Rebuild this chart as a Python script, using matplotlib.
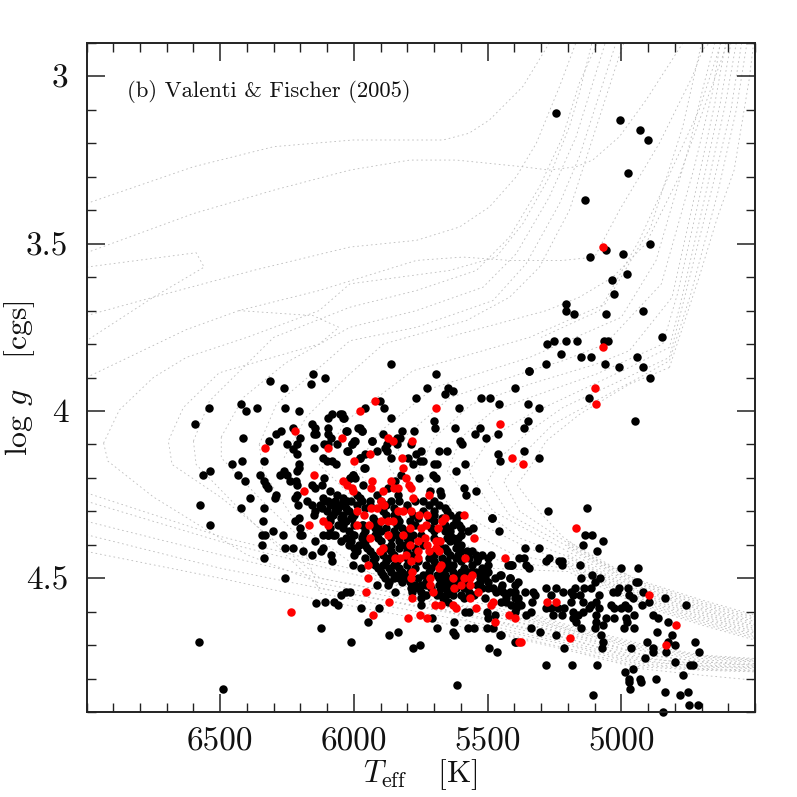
import matplotlib
matplotlib.use("Agg")
import matplotlib.pyplot as plt
from matplotlib.ticker import MultipleLocator

plt.rcParams['font.family'] = ['cmr10', 'DejaVu Serif']
plt.rcParams['mathtext.fontset'] = 'cm'
plt.rcParams['axes.unicode_minus'] = False
plt.rcParams['axes.formatter.use_mathtext'] = True

panel_title = "(b) Valenti & Fischer (2005)"
x_ticks = [6500, 6000, 5500, 5000]
y_ticks = [3, 3.5, 4, 4.5]
y_labels = ["3", "3.5", "4", "4.5"]

red_stars = [
 (6332,4.11),(6220,4.06),(6151,4.19),(6187,4.24),(6167,4.34),(6114,4.33),(6098,4.34),(6098,4.11),(6043,4.08),
 (5999,4.15),(5939,4.13),(5977,4.00),(5921,3.97),(6039,4.21),(6025,4.22),(6008,4.23),(6002,4.24),(5934,4.21),(5937,4.23),
 (5990,4.30),(5962,4.31),(5937,4.29),(5915,4.29),(5990,4.34),(5942,4.34),(5940,4.38),(5694,3.99),(5872,4.08),(5855,4.09),
 (5782,4.09),(5821,4.14),(5817,4.17),(5452,4.04),(5409,4.14),(5369,4.16),(5804,4.20),(5862,4.21),(5849,4.23),(5834,4.23),
 (5793,4.22),(5787,4.23),(5890,4.24),(5778,4.26),(5719,4.25),(5897,4.27),(5887,4.28),(5834,4.30),(5816,4.30),(5785,4.30),
 (5756,4.31),(5725,4.31),(5658,4.32),(5590,4.31),(5898,4.33),(5872,4.33),(5853,4.33),(5791,4.35),(5729,4.34),(5750,4.35),
 (5685,4.35),(5669,4.33),(5816,4.37),(5874,4.37),(5552,4.38),(5789,4.40),(5762,4.39),(5735,4.38),(5725,4.40),(5692,4.39),
 (5679,4.39),(5692,4.41),(5682,4.42),(5719,4.42),(5760,4.42),(5891,4.41),(5903,4.42),(5804,4.43),(5845,4.44),(5826,4.44),
 (5759,4.44),(5787,4.45),(5586,4.44),(5434,4.44),(5947,4.46),(5673,4.46),(5682,4.47),(5781,4.48),(5949,4.50),(5787,4.50),
 (5714,4.50),(5629,4.50),(5588,4.50),(5557,4.49),(5567,4.50),(5716,4.52),(5601,4.52),(5565,4.52),(5627,4.53),(5953,4.54),
 (5704,4.54),(5535,4.54),(5781,4.56),(5566,4.56),(5869,4.57),(5697,4.58),(5673,4.58),(5629,4.58),(5617,4.59),(5542,4.59),
 (5480,4.57),(5486,4.58),(5930,4.61),(5797,4.62),(5751,4.61),(5726,4.62),(5420,4.61),(5399,4.62),(5471,4.63),(5381,4.69),
 (5171,4.35),(5277,4.57),(5246,4.57),(5374,4.69),(5191,4.68),(4898,4.55),(4797,4.64),(4834,4.70),(6235,4.60),
 (5067,3.51),(5067,3.81),(5098,3.93),(5095,3.98),
]

black_stars = [
 (6593,4.04),(6541,3.99),(6312,3.91),(6261,3.93),(6154,3.89),(6107,3.90),(6160,3.92),(6423,3.98),(6404,4.00),(6362,3.99),
 (6257,3.99),(6204,4.00),(6415,4.08),(6319,4.09),(6291,4.07),(6273,4.06),(6226,4.05),(6457,4.16),(6418,4.15),(6338,4.15),
 (6540,4.18),(6566,4.19),(6434,4.19),(6409,4.21),(6350,4.19),(6338,4.21),(6328,4.22),(6321,4.23),(6387,4.26),(6292,4.25),
 (6296,4.26),(6576,4.28),(6424,4.29),(6338,4.29),(6537,4.34),(6340,4.33),(6333,4.37),(6303,4.36),(6266,4.37),
 (6201,4.08),(6251,4.10),(6214,4.10),(6226,4.115),(6214,4.13),(6207,4.16),(6204,4.17),(6214,4.18),(6151,4.11),
 (6158,4.04),(6145,4.05),(6151,4.07),(6140,4.07),(6095,4.05),(6095,4.07),(6085,4.08),(6064,4.10),(6095,4.10),(6110,4.10),
 (6083,4.01),(6095,4.02),(6052,4.01),(6039,4.02),(6027,4.06),(5977,4.05),(5971,4.06),(5996,4.09),(6008,4.10),(6023,4.12),
 (5934,4.09),(5977,4.14),(5959,4.13),(5961,4.17),(6114,4.14),(6102,4.15),(6083,4.15),(6068,4.16),(6110,4.20),(6002,4.19),
 (6015,4.20),(6158,4.22),(6145,4.23),(6120,4.22),(6214,4.25),(6222,4.26),(6210,4.28),(6261,4.18),(6251,4.19),(6276,4.19),
 (6238,4.21),(6217,4.21),(6214,4.22),(6176,4.27),(6158,4.28),(6127,4.28),(6145,4.30),(6151,4.31),(6114,4.26),(6089,4.24),
 (6064,4.25),(6095,4.27),(6064,4.28),(6039,4.26),(6027,4.27),(5990,4.25),(5965,4.22),(5977,4.26),(5940,4.27),(5915,4.25),
 (6064,4.30),(6089,4.32),(6039,4.34),(6008,4.32),(5965,4.34),(6205,4.32),(6220,4.33),(6201,4.35),(6195,4.37),(6114,4.37),
 (6077,4.37),(6002,4.37),(6095,4.37),(5965,4.37),(5915,4.36),
 (6343,4.37),(6343,4.40),(6336,4.44),(6257,4.41),(6228,4.41),(6190,4.42),(6157,4.43),(6201,4.37),(6146,4.39),(6257,4.50),
 (6142,4.575),(6578,4.69),(6490,4.83),(5616,4.82),
 (5862,3.86),(5694,3.89),(5344,3.88),(5399,3.93),(5726,3.93),(5648,3.93),(5631,3.94),(5658,3.95),(5767,3.96),(5525,3.96),
 (5491,3.96),(5456,3.98),(5348,3.98),(5309,3.99),(5607,3.99),(5903,3.97),(5959,3.99),(5888,3.99),(5862,4.02),(6046,4.01),
 (6037,4.02),(5699,4.03),(5696,4.05),(5623,4.05),(5530,4.05),(5547,4.07),(5507,4.08),(5460,4.07),(5349,4.03),(5364,4.05),
 (5821,4.06),(5775,4.06),(5604,4.09),(5597,4.10),(5681,4.12),(5651,4.12),(5750,4.12),(5768,4.13),(5753,4.15),(5741,4.15),
 (5780,4.16),(5799,4.14),(5862,4.14),(5699,4.16),(5691,4.16),(5584,4.16),(5620,4.18),(5460,4.13),(5454,4.15),(5363,4.12),
 (5309,4.14),(5706,4.19),(5694,4.20),(5755,4.20),(5590,4.23),(5580,4.25),(5544,4.24),(5679,4.24),(5676,4.25),(5714,4.24),
 (5485,4.32),(6028,4.06),(5984,4.05),(5971,4.06),(5999,4.09),(6006,4.10),(6027,4.12),(5933,4.09),(5890,4.07),(5840,4.08),
 (5828,4.08),(5838,4.10),(5878,4.10),(5884,4.11),(5878,4.12),(5915,4.12),(5785,4.10),(5977,4.14),(5960,4.17),(6002,4.19),
 (5996,4.20),(6015,4.20),(5822,4.19),(5847,4.21),(5834,4.25),(5872,4.23),
 (5485,4.32),(5458,4.36),(5607,4.31),(5619,4.32),(5607,4.34),(5555,4.35),(5573,4.36),(5611,4.38),(5619,4.39),(5489,4.43),
 (5577,4.42),(5542,4.43),(5536,4.44),(5424,4.46),(5412,4.46),(5418,4.50),(5455,4.49),(5474,4.50),(6003,4.46),(5972,4.47),
 (6086,4.43),(6083,4.45),(6117,4.41),(6123,4.42),(6049,4.39),(6096,4.37),(6071,4.37),(6108,4.57),(6075,4.57),(6059,4.58),
 (6050,4.55),(6030,4.54),(6013,4.54),(5975,4.59),(5907,4.59),(5949,4.63),(5846,4.54),(5913,4.52),(5874,4.52),(5884,4.50),
 (5851,4.50),(5821,4.51),(5750,4.52),(5787,4.53),(5781,4.54),(5748,4.56),(5750,4.58),(5654,4.55),(5667,4.56),(5648,4.57),
 (5590,4.56),(5586,4.60),(5571,4.60),(5708,4.62),(5627,4.63),(5690,4.65),(5573,4.65),(5552,4.65),(5501,4.65),(5480,4.65),
 (5453,4.67),(5629,4.66),(5623,4.67),(5867,4.67),(5836,4.66),(6009,4.69),(5779,4.71),(5754,4.70),(5493,4.71),(5465,4.72),
 (5396,4.69),(6123,4.65),(5499,4.53),(5480,4.53),(5468,4.54),(5449,4.53),(5430,4.56),(5399,4.54),(5387,4.56),(5412,4.58),
 (5393,4.59),(5511,4.56),(5501,4.60),(5471,4.61),(5499,4.62),(5517,4.48),(5511,4.50),(5530,4.51),(5542,4.48),(5573,4.48),
 (5598,4.48),
 (5134,4.37),(5109,4.37),(5068,4.39),(5143,4.40),(5090,4.42),(5156,4.46),(5362,4.41),(5308,4.41),(5384,4.44),(5364,4.44),
 (5358,4.46),(5347,4.47),(5418,4.46),(5408,4.46),(5271,4.44),(5281,4.45),(5234,4.45),(5221,4.45),(5221,4.46),(5001,4.47),
 (4936,4.47),(4945,4.51),(4936,4.51),(5149,4.50),(5110,4.49),(5079,4.50),(5100,4.51),(5418,4.50),(5387,4.51),(5399,4.52),
 (5445,4.52),(5451,4.49),(5283,4.53),(5246,4.53),(5219,4.54),(5188,4.54),(5175,4.53),(5138,4.53),(5113,4.53),(5082,4.55),
 (5032,4.54),(5017,4.54),(5007,4.53),(4976,4.53),(4972,4.55),(4957,4.56),(4918,4.54),(4895,4.57),(4923,4.58),(4837,4.56),
 (4758,4.58),(5359,4.54),(5331,4.54),(5324,4.55),(5333,4.57),(5262,4.55),(5399,4.56),(5387,4.57),(5374,4.58),(5430,4.57),
 (5451,4.57),(5443,4.54),(5418,4.54),(5430,4.55),(5188,4.57),(5181,4.55),(5156,4.55),(5144,4.57),(5113,4.58),(5094,4.57),
 (5038,4.58),(5026,4.59),(5001,4.59),(4988,4.58),(4976,4.59),(4951,4.61),(5082,4.59),(5283,4.59),(5262,4.59),(5237,4.59),
 (5215,4.59),(5257,4.61),(5222,4.61),(5355,4.61),(5337,4.60),(5399,4.60),(5181,4.60),(5163,4.61),(5144,4.60),(5119,4.59),
 (5181,4.62),(5169,4.63),(5094,4.61),(5094,4.63),(5069,4.64),(5057,4.62),(5026,4.62),(4982,4.62),(4979,4.63),(4991,4.65),
 (4954,4.65),(5100,4.65),(5149,4.65),(5336,4.65),(5303,4.66),(5244,4.67),(5076,4.67),(5067,4.69),(5072,4.71),(5215,4.71),
 (5451,4.67),(5395,4.69),(5280,4.76),(5184,4.76),(5092,4.76),(4965,4.71),(4904,4.69),(4883,4.61),(4864,4.62),(4827,4.63),
 (4868,4.66),(4811,4.67),(4827,4.69),(4798,4.70),(4880,4.71),(4880,4.72),(4833,4.72),(4725,4.69),(4709,4.72),(4910,4.74),
 (4799,4.75),(4743,4.76),(4732,4.76),(4985,4.78),(4955,4.77),(4970,4.80),(4970,4.81),(4930,4.80),(4926,4.81),(4966,4.83),
 (4869,4.80),(4771,4.79),(4835,4.84),(4751,4.84),(4781,4.85),(5105,4.85),(4746,4.88),(4715,4.88),(4845,4.90),
 (5246,3.11),(5005,3.13),(4929,3.16),(4901,3.19),(4976,3.29),(5137,3.37),(4891,3.50),(5057,3.52),(4995,3.53),(5116,3.54),
 (4978,3.59),(5036,3.61),(5029,3.65),(5207,3.68),(5207,3.70),(5177,3.71),(5057,3.71),(4920,3.70),(4848,3.78),(5276,3.80),
 (5250,3.79),(5207,3.79),(5164,3.79),(5066,3.79),(5051,3.79),(5224,3.83),(5152,3.84),(5113,3.84),(4940,3.84),(5280,3.86),
 (5061,3.86),(5010,3.87),(4918,3.87),(5345,3.88),(4892,3.90),(5120,3.96),(4950,4.03),(5273,4.30),(5127,4.29),
]

# crowded core of the diagram, read row by row: logg -> Teff values
core_logg = [4.27,4.28,4.29,4.30,4.31,4.32,4.33,4.34,4.35,4.36,4.37,4.38,4.39,4.40,4.41,
             4.42,4.43,4.44,4.45,4.46,4.47,4.48,4.49,4.50,4.51,4.52,4.53,4.54,4.55]
core_teff = [
 [6110,6070,6040,6010,5970,5900,5860,5830,5770,5740,5700],
 [6090,6050,5990,5940,5880,5800,5720,5680],
 [6120,6060,6030,5960,5850,5800,5660],
 [6100,6070,6020,5890,5740,5700,5650],
 [6080,6040,6000,5880,5850,5780,5700,5640],
 [6050,6010,5930,5840,5760,5720,5670],
 [6090,6030,5920,5830,5790,5700,5620],
 [6060,6000,5970,5910,5840,5770,5660,5630],
 [6090,6040,5920,5880,5820,5710,5650,5600],
 [6020,5960,5900,5850,5800,5700,5660,5640],
 [6000,5920,5840,5780,5750,5640,5600],
 [6030,5970,5910,5860,5800,5700,5650,5630],
 [6010,5960,5900,5830,5790,5680,5640],
 [6020,5980,5960,5860,5810,5740,5680,5600],
 [6000,5950,5880,5830,5770,5660,5620],
 [5990,5940,5860,5800,5700,5650,5600,5560],
 [6000,5930,5890,5850,5780,5700,5640,5610,5520],
 [5960,5920,5870,5800,5720,5670,5620,5570,5500],
 [5930,5880,5840,5760,5700,5650,5600,5540],
 [5920,5890,5850,5800,5730,5690,5630,5560,5500],
 [5910,5870,5830,5770,5710,5650,5590,5520],
 [5900,5860,5820,5790,5720,5670,5630,5560,5500],
 [5890,5840,5800,5740,5690,5660,5610,5510],
 [5830,5810,5760,5680,5650,5610,5530],
 [5870,5790,5730,5670,5640,5590,5500],
 [5770,5730,5680,5650,5620,5540],
 [5760,5710,5660,5620,5590,5520],
 [5750,5680,5640,5570],
 [5730,5690,5630,5600,5550],
]

# theoretical isochrones: (Teff, logg)
isochrones = [
 [(7000,3.38),(6600,3.27),(6300,3.21),(6004,3.19),(5667,3.19),(5570,3.17),(5493,3.13),(5368,3.03),(5269,2.90)],
 [(7000,3.527),(6600,3.41),(6300,3.34),(6015,3.28),(5791,3.25),(5617,3.25),(5368,3.27),(5269,3.28),(5169,3.27),(5107,3.25),(5007,3.18),(4907,3.07),(4810,2.95),(4770,2.90)],
 [(7000,3.715),(6750,3.66),(6377,3.58),(6015,3.51),(5766,3.49),(5605,3.45),(5493,3.39),(5393,3.30),(5318,3.20),(5231,3.03),(5170,2.90)],
 [(7000,3.57),(6590,3.527),(6560,3.57),(6750,3.66),(7000,3.79)],
 [(7000,3.90),(6627,3.757),(6430,3.70),(6130,3.64),(5766,3.55),(5592,3.54),(5418,3.55),(5219,3.55),(5100,3.54),(5007,3.40),(4858,3.20),(4734,3.00),(4696,2.92),(4670,2.90)],
 [(6430,3.70),(6153,3.715),(6056,3.75),(6130,3.80),(6504,3.886),(6638,3.99),(6694,4.09),(6680,4.16),(6500,4.257),(6377,4.335),(6127,4.50),(5500,4.60),(5200,4.66),(4933,4.725),(4700,4.75),(4500,4.76)],
 [(6936,4.096),(6877,3.997),(6750,3.90),(6627,3.84),(6400,3.78),(6130,3.70),(6015,3.62),(5642,3.58),(5468,3.54),(5368,3.44),(5269,3.30),(5194,3.15),(5157,3.05),(5110,2.90)],
 [(6936,4.096),(6920,4.15),(6750,4.257),(6400,4.43),(6127,4.515),(5500,4.61),(5200,4.67),(4933,4.735),(4700,4.76),(4500,4.765)],
 [(6600,4.09),(6540,3.97),(6300,3.78),(6015,3.69),(5766,3.64),(5542,3.58),(5418,3.48),(5306,3.33),(5219,3.18),(5157,3.02),(5090,2.90)],
 [(6600,4.09),(6590,4.16),(6420,4.30),(6127,4.53),(5500,4.625),(5200,4.68),(4933,4.745),(4700,4.765),(4500,4.77)],
 [(6496,4.078),(6414,3.96),(6254,3.856),(6015,3.75),(5766,3.70),(5517,3.63),(5393,3.53),(5269,3.36),(5169,3.18),(5060,2.90)],
 [(6496,4.078),(6496,4.14),(6354,4.26),(6200,4.38),(6127,4.545),(5500,4.64),(5200,4.695),(4933,4.755),(4700,4.77),(4500,4.775)],
 [(6354,4.10),(6290,3.98),(6100,3.85),(6015,3.79),(5766,3.75),(5480,3.67),(5356,3.56),(5231,3.38),(5157,3.24),(5020,2.90)],
 [(6354,4.10),(6340,4.18),(6220,4.33),(6000,4.46),(5500,4.655),(5200,4.71),(4933,4.765),(4700,4.775),(4500,4.78)],
 [(6261,4.14),(6180,4.02),(6030,3.90),(5890,3.80),(5580,3.73),(5418,3.66),(5306,3.57),(5194,3.40),(5000,2.92),(4990,2.90)],
 [(7000,4.245),(6500,4.375),(6127,4.45),(5500,4.565),(5200,4.64),(4933,4.695),(4700,4.73),(4500,4.74)],
 [(7000,4.27),(6500,4.39),(6127,4.465),(5500,4.58),(5200,4.65),(4933,4.705),(4700,4.735),(4500,4.745)],
 [(7000,4.33),(6500,4.43),(6127,4.50),(5500,4.595),(5200,4.655),(4933,4.715),(4700,4.745),(4500,4.75)],
 [(7000,4.37),(6500,4.47),(6127,4.53),(5500,4.62),(5200,4.68),(4933,4.74),(4700,4.755),(4500,4.76)],
 [(7000,4.42),(6500,4.50),(6127,4.565),(5500,4.66),(5200,4.715),(4933,4.77),(4700,4.79),(4500,4.805)],
 [(4820,3.87),(4970,3.92),(5156,4.01),(5281,4.09),(5343,4.17),(5390,4.22),(5343,4.27),(5219,4.376),(5093,4.446),(4933,4.506),(4700,4.565),(4500,4.61)],
 [(4505,2.90),(4522,3.01),(4578,3.28),(4640,3.42),(4709,3.60),(4820,3.87)],
 [(4530,2.90),(4570,3.10),(4640,3.35),(4740,3.65),(4820,3.85),(4932,3.90),(5119,3.98),(5256,4.04),(5343,4.11),(5440,4.21),(5380,4.30),(5200,4.395),(4933,4.515),(4700,4.575),(4500,4.62)],
 [(4550,2.90),(4590,3.10),(4650,3.30),(4760,3.65),(4820,3.84),(5032,3.92),(5219,3.99),(5343,4.06),(5440,4.13),(5500,4.21),(5420,4.31),(5200,4.405),(4933,4.525),(4700,4.585),(4500,4.63)],
 [(4570,2.90),(4610,3.08),(4670,3.30),(4770,3.65),(4820,3.81),(4970,3.87),(5156,3.94),(5343,4.01),(5490,4.08),(5570,4.18),(5480,4.30),(5200,4.42),(4933,4.535),(4700,4.595),(4500,4.64)],
 [(4590,2.90),(4630,3.08),(4690,3.30),(4790,3.65),(4845,3.80),(5094,3.89),(5343,3.96),(5480,4.00),(5600,4.08),(5650,4.18),(5560,4.27),(5380,4.38),(5200,4.435),(4933,4.545),(4700,4.605),(4500,4.65)],
 [(4610,2.90),(4650,3.08),(4710,3.30),(4810,3.66),(4970,3.82),(5094,3.86),(5343,3.92),(5560,3.98),(5700,4.08),(5760,4.18),(5620,4.30),(5350,4.41),(5200,4.45),(4933,4.555),(4700,4.615),(4500,4.66)],
 [(4630,2.90),(4660,3.05),(4730,3.28),(4850,3.62),(5060,3.80),(5219,3.85),(5343,3.88),(5640,3.96),(5800,4.07),(5870,4.17),(5720,4.30),(5400,4.43),(5200,4.46),(4933,4.565),(4700,4.625),(4500,4.67)],
 [(4650,2.90),(4690,3.02),(4750,3.22),(4870,3.55),(5000,3.72),(5343,3.84),(5700,3.93),(5900,4.06),(6000,4.17),(5850,4.30),(5450,4.45),(5200,4.47),(4933,4.575),(4700,4.635),(4500,4.68)],
 [(4700,2.90),(4770,3.15),(4890,3.45),(5060,3.68),(5343,3.78),(5780,3.88),(6030,4.03),(6130,4.16),(5950,4.30),(5500,4.47),(5200,4.48),(4933,4.58),(4700,4.64),(4500,4.685)],
 [(4627,2.90),(4709,3.10),(4933,3.49),(5082,3.70),(5300,3.78)],
 [(4603,2.90),(4784,3.30),(4908,3.50),(5032,3.60),(5157,3.66),(5280,3.70),(5650,3.78)],
 # extra main-sequence tails that fill the two dense bands at the cool end
 [(5200,4.39),(4933,4.51),(4700,4.57),(4500,4.615)],
 [(5200,4.40),(4933,4.52),(4700,4.58),(4500,4.625)],
 [(5200,4.41),(4933,4.53),(4700,4.59),(4500,4.635)],
 [(5200,4.43),(4933,4.54),(4700,4.60),(4500,4.645)],
 [(5200,4.44),(4933,4.55),(4700,4.61),(4500,4.655)],
 [(5200,4.455),(4933,4.56),(4700,4.62),(4500,4.665)],
 [(5200,4.465),(4933,4.57),(4700,4.63),(4500,4.675)],
 [(5500,4.57),(5200,4.645),(4933,4.70),(4700,4.7325),(4500,4.7425)],
 [(5500,4.5875),(5200,4.652),(4933,4.71),(4700,4.74),(4500,4.7475)],
 [(5500,4.61),(5200,4.665),(4933,4.7275),(4700,4.75),(4500,4.755)],
 [(5500,4.63),(5200,4.688),(4933,4.75),(4700,4.7625),(4500,4.7675)],
 [(5500,4.648),(5200,4.70),(4933,4.76),(4700,4.7725),(4500,4.7775)],
]

fig = plt.figure(figsize=(7.97, 7.97), dpi=100)
ax = fig.add_axes([86.5/797, 1-712/797, (755-86.5)/797, (712-43)/797])

for curve in isochrones:
    ax.plot([p[0] for p in curve], [p[1] for p in curve], color='#bcbcbc', lw=0.6,
            dashes=(2.0, 3.5), zorder=1)

bt = [p[0] for p in black_stars]
bg = [p[1] for p in black_stars]
for g, row in zip(core_logg, core_teff):
    bt.extend(row)
    bg.extend([g]*len(row))
ax.plot(bt, bg, 'o', color='black', ms=6.1, mew=0, zorder=2, clip_on=False)
ax.plot([p[0] for p in red_stars], [p[1] for p in red_stars], 'o', color='#ff0000', ms=6.1, mew=0,
        zorder=3, clip_on=False)

ax.set_xlim(7000, 4500)
ax.set_ylim(4.9, 2.9)
ax.xaxis.set_major_locator(MultipleLocator(500))
ax.xaxis.set_minor_locator(MultipleLocator(100))
ax.yaxis.set_major_locator(MultipleLocator(0.5))
ax.yaxis.set_minor_locator(MultipleLocator(0.1))
ax.set_xticks(x_ticks)
ax.set_xticklabels([str(t) for t in x_ticks])
ax.set_yticks(y_ticks)
ax.set_yticklabels(y_labels)
ax.tick_params(which='major', direction='in', length=13, width=1.1, top=True, right=True,
               color='#222222', labelsize=24, labelcolor='#111111')
ax.tick_params(axis='x', which='major', pad=11)
ax.tick_params(axis='y', which='major', pad=13)
ax.tick_params(which='minor', direction='in', length=6.5, width=1.0, top=True, right=True, color='#222222')
for s in ax.spines.values():
    s.set_linewidth(1.4)
    s.set_color('#222222')

ax.text(6847, 3.045, panel_title, fontsize=16.3, ha='left', va='center', color='#111111')
fig.text(420/797, 1-775/797, r'$T_{\mathrm{eff}}$   [K]', fontsize=22.5, ha='center', va='center', color='#111111')
fig.text(20/797, 1-378/797, r'$\log\,g$   [cgs]', fontsize=23, ha='center', va='center', rotation=90, color='#111111')

fig.savefig('out.png', dpi=100)
